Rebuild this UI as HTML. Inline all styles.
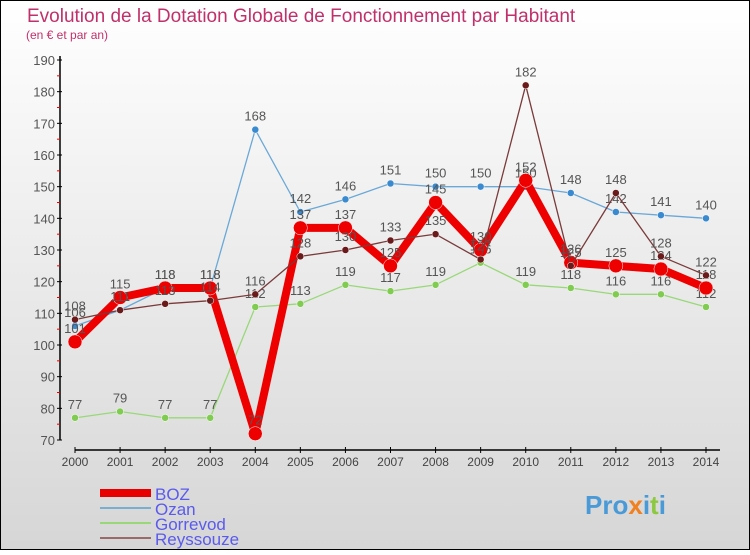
<!DOCTYPE html>
<html><head><meta charset="utf-8"><style>
html,body{margin:0;padding:0}
body{width:750px;height:550px;overflow:hidden;font-family:"Liberation Sans",sans-serif}
svg text{font-family:"Liberation Sans",sans-serif}
</style></head><body>
<svg id="chart" width="750" height="550" xmlns="http://www.w3.org/2000/svg">
<defs><linearGradient id="bg" x1="0" y1="0" x2="0" y2="1"><stop offset="0" stop-color="#ffffff"/><stop offset="1" stop-color="#d6d6d6"/></linearGradient></defs>
<rect x="0" y="0" width="750" height="550" fill="url(#bg)" stroke="#000" stroke-width="2"/>
<text x="27" y="22" font-size="19" fill="#c0306a">Evolution de la Dotation Globale de Fonctionnement par Habitant</text>
<text x="26" y="39" font-size="12" fill="#c0306a">(en € et par an)</text>
<g id="axes"></g>
<g id="series"></g>
<g id="legend">
 <line x1="100" y1="493" x2="151" y2="493" stroke="#e80000" stroke-width="8"/>
 <text x="155" y="500" font-size="17" fill="#5a5aee">BOZ</text>
 <line x1="100" y1="508" x2="151" y2="508" stroke="#7aaed0" stroke-width="2"/>
 <text x="155" y="515" font-size="17" fill="#5a5aee">Ozan</text>
 <line x1="100" y1="523" x2="151" y2="523" stroke="#98d878" stroke-width="2"/>
 <text x="155" y="530" font-size="17" fill="#5a5aee">Gorrevod</text>
 <line x1="100" y1="538" x2="151" y2="538" stroke="#9a6a6a" stroke-width="2"/>
 <text x="155" y="545" font-size="17" fill="#5a5aee">Reyssouze</text>
</g>
<text x="585" y="514" font-size="26" font-weight="bold" fill="#4a9ad8">Pro<tspan fill="#f08020">x</tspan>i<tspan fill="#8cc840">t</tspan>i</text>
</svg>
<script>
const years=[2000,2001,2002,2003,2004,2005,2006,2007,2008,2009,2010,2011,2012,2013,2014];
const boz=[101,115,118,118,72,137,137,125,145,130,152,126,125,124,118];
const ozan=[106,111,118,118,168,142,146,151,150,150,150,148,142,141,140];
const gorrevod=[77,79,77,77,112,113,119,117,119,126,119,118,116,116,112];
const reyssouze=[108,111,113,114,116,128,130,133,135,127,182,125,148,128,122];
const yTicks=[70,80,90,100,110,120,130,140,150,160,170,180,190];
const NS="http://www.w3.org/2000/svg";
const xs=i=>75+i*(706-75)/(years.length-1);
const ys=v=>440-(v-70)*(380/120);
function mk(t,a,p){const e=document.createElementNS(NS,t);for(const k in a)e.setAttribute(k,a[k]);p.appendChild(e);return e;}
const ax=document.getElementById('axes');
let l=mk('line',{x1:60,y1:ys(190)-4,x2:60,y2:ys(70),stroke:'#000','stroke-width':1.5},ax);


l=mk('line',{x1:xs(0),y1:450,x2:720,y2:450,stroke:'#000','stroke-width':1.5},ax);


yTicks.forEach((v,i)=>{
 mk('line',{x1:57,y1:ys(v),x2:62,y2:ys(v),stroke:'#000'},ax);
 if(i<yTicks.length-1) mk('line',{x1:57,y1:ys(v+5),x2:60,y2:ys(v+5),stroke:'#e00'},ax);
 const t=mk('text',{x:55,y:ys(v)+5,'text-anchor':'end','font-size':13,fill:'#555'},ax);
 
 
 t.textContent=v;
});
years.forEach((y,i)=>{
 mk('line',{x1:xs(i),y1:447,x2:xs(i),y2:453,stroke:'#000'},ax);
 const t=mk('text',{x:xs(i),y:466,'text-anchor':'middle','font-size':12,fill:'#444'},ax);
 
 
 t.textContent=y;
});
const sg=document.getElementById('series');
function draw(name,vals,color,w,r,dot){
 const g=mk('g',{},sg);
 
 
 const p=mk('polyline',{points:vals.map((v,i)=>xs(i)+','+ys(v)).join(' '),fill:'none',stroke:color,'stroke-width':w,'stroke-linejoin':'round'},g);
 
 
 vals.forEach((v,i)=>{
  const c=mk('circle',{cx:xs(i),cy:ys(v),r:r,fill:dot,stroke:'#fff','stroke-width':0.5},g);
  
  
  const t=mk('text',{x:xs(i),y:ys(v)-9,'text-anchor':'middle','font-size':13,fill:'#555'},g);
  
  
  t.textContent=v;
 });
}
draw('gorrevod',gorrevod,'#98d878',1.3,3.5,'#80cc50');
draw('ozan',ozan,'#6aa8d8',1.3,3.5,'#3a8ad0');
draw('boz',boz,'#ee0000',8,7,'#ee0000');
draw('reyssouze',reyssouze,'#7a3a3a',1.3,3.5,'#6a1a1a');
</script>
</body></html>
